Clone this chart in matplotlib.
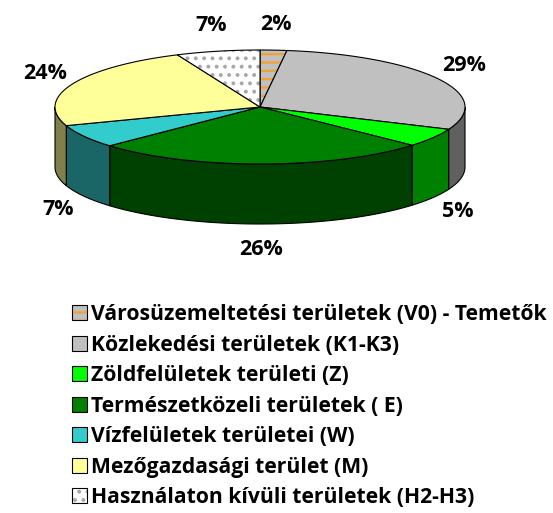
import numpy as np
import matplotlib
matplotlib.use("Agg")
import matplotlib.pyplot as plt
from matplotlib.patches import Polygon, Patch

# Land-use shares (%), clockwise from 12 o'clock
categories = [
    "Városüzemeltetési területek (V0) - Temetők",
    "Közlekedési területek (K1-K3)",
    "Zöldfelületek területi (Z)",
    "Természetközeli területek ( E)",
    "Vízfelületek területei (W)",
    "Mezőgazdasági terület (M)",
    "Használaton kívüli területek (H2-H3)",
]
values = [2.1, 29.3, 5.3, 26.4, 6.6, 23.7, 6.6]
labels = ["2%", "29%", "5%", "26%", "7%", "24%", "7%"]

top_colors = ["#c0c0c0", "#c0c0c0", "#00ff00", "#008000", "#33cccc", "#ffff99", "#ffffff"]
side_colors = ["#606060", "#606060", "#008000", "#004000", "#1a6666", "#80804c", "#808080"]
hatch_colors = ["#f5a030", None, None, None, None, None, "#a8a8a8"]
hatches = ["--", None, None, None, None, None, ".."]

# geometry of the tilted pie (pixel units)
CX, CY, RX, RY, DEPTH = 260, 107, 205, 57, 60

plt.rcParams["font.family"] = ["Open Sans", "DejaVu Sans"]
plt.rcParams["hatch.linewidth"] = 1.6

fig = plt.figure(figsize=(5.53, 5.13), dpi=100)
ax = fig.add_axes([0, 0, 1, 1])
ax.set_xlim(0, 553)
ax.set_ylim(513, 0)
ax.axis("off")


def arc(a, b, dy=0.0, n=80):
    t = np.radians(np.linspace(a, b, n))
    return np.column_stack([CX + RX * np.sin(t), CY - RY * np.cos(t) + dy])


angles = np.concatenate([[0], np.cumsum(values)]) / sum(values) * 360

# side walls (only the front half is visible)
for i in range(len(values)):
    a, b = max(angles[i], 90), min(angles[i + 1], 270)
    if b <= a:
        continue
    pts = np.vstack([arc(a, b), arc(b, a, DEPTH)])
    ax.add_patch(Polygon(pts, closed=True, facecolor=side_colors[i],
                         edgecolor="black", lw=0.8))

# top faces
for i in range(len(values)):
    pts = np.vstack([[CX, CY], arc(angles[i], angles[i + 1])])
    if hatches[i]:
        ax.add_patch(Polygon(pts, closed=True, facecolor=top_colors[i],
                             edgecolor=hatch_colors[i], hatch=hatches[i], lw=0))
        ax.add_patch(Polygon(pts, closed=True, fill=False, edgecolor="black", lw=0.8))
    else:
        ax.add_patch(Polygon(pts, closed=True, facecolor=top_colors[i],
                             edgecolor="black", lw=0.8))

# percentage labels outside each slice
for i, lab in enumerate(labels):
    m = np.radians((angles[i] + angles[i + 1]) / 2)
    x = CX + (RX + 30) * np.sin(m)
    y = CY - (RY + 26) * np.cos(m)
    if np.cos(m) < 0:
        y += DEPTH
    ax.text(x, y, lab, ha="center", va="center", fontsize=15.5, fontweight="bold")

handles = []
for i in range(len(values)):
    if hatches[i]:
        handles.append((Patch(facecolor=top_colors[i], edgecolor=hatch_colors[i],
                              hatch=hatches[i], lw=0),
                        Patch(fill=False, edgecolor="black", lw=0.8)))
    else:
        handles.append(Patch(facecolor=top_colors[i], edgecolor="black", lw=0.8))

leg = ax.legend(handles, categories, loc="upper left", bbox_to_anchor=(0.13, 0.407),
                frameon=False, fontsize=15.2, handlelength=0.7, handleheight=0.7,
                handletextpad=0.2, labelspacing=0.45, borderaxespad=0, borderpad=0)
for t in leg.get_texts():
    t.set_fontweight("bold")

fig.savefig("out.png", dpi=100)
